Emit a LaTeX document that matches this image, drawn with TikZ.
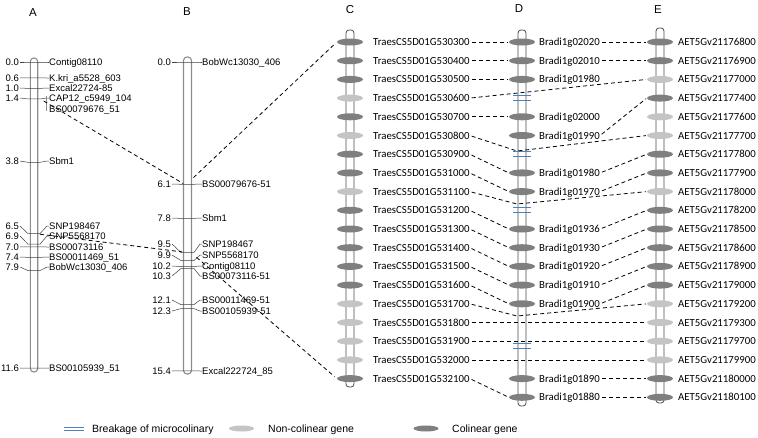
\documentclass[tikz,border=0pt]{standalone}
\usepackage{fontspec}
\setmainfont{Liberation Sans}
\newfontfamily\calibri{Carlito}
\usepackage{tikz}
\usetikzlibrary{shapes.geometric}
\definecolor{colgray}{HTML}{7F7F7F}
\definecolor{noncolgray}{HTML}{C4C4C4}
\definecolor{rodgray}{HTML}{8C8C8C}
\definecolor{breakblue}{HTML}{4F81BD}

\begin{document}
\begin{tikzpicture}[
    x=1pt, y=-1pt,
    rod/.style={draw=rodgray, line width=1.1pt, fill=white, rounded corners=3.5pt},
    generod/.style={draw=black!70, line width=0.8pt, fill=white, rounded corners=3pt},
    gene/.style={ellipse, minimum width=26pt, minimum height=7pt, inner sep=0pt},
    header/.style={font=\fontsize{11.5}{13}\selectfont},
    maplabel/.style={anchor=west, inner sep=0pt, font=\fontsize{9.5}{11}\selectfont,
                     text height=6.8pt, text depth=0pt},
    mapnum/.style={anchor=east, inner xsep=1pt, inner ysep=0pt, font=\fontsize{9.5}{11}\selectfont,
                   text height=6.8pt, text depth=0pt},
    mapline/.style={black!75, line width=0.5pt},
    genelabel/.style={anchor=west, inner sep=0pt, font=\calibri\fontsize{10.8}{12}\selectfont,
                      text height=7pt, text depth=0pt},
    link/.style={black, line width=0.8pt, dash pattern=on 4pt off 3pt,
                 shorten <=2pt, shorten >=1pt},
    brk/.style={breakblue, line width=0.8pt},
    legendtext/.style={anchor=west, inner sep=0pt, font=\fontsize{10.5}{12}\selectfont,
                       text height=7.5pt, text depth=0pt},
]
\useasboundingbox (0,0) rectangle (758,437);
% Panel letters
\node[header] (ha) at (33,13) {A};
\node[header] (hb) at (187,12) {B};
\node[header] (hc) at (350,10) {C};
\node[header] (hd) at (519,9) {D};
\node[header] (he) at (658,10) {E};

% Linkage map A
\draw[rod] (30.3,58) rectangle (37.7,372);
\foreach \cm/\ly/\w [count=\k] in {0.0/62/Contig08110, 0.6/78/K.kri\_a5528\_603,
    1.0/88/Excal22724-85, 1.4/98/CAP12\_c5949\_104, 3.8/161/Sbm1, 6.5/226/SNP198467,
    6.9/236/SNP5568170, 7.0/247/BS00073116, 7.4/257/BS00011469\_51,
    7.9/267/BobWc13030\_406, 11.6/368/BS00105939\_51} {
    \pgfmathsetmacro\my{62+26.4*\cm}
    \node[mapnum] (na\k) at (20,\ly) {\cm};
    \node[maplabel] (la\k) at (49,\ly) {\w};
    \draw[mapline] (na\k.east) -- (28,\my) -- (40,\my) -- (47,\ly) -- (la\k.west);
}
\node[maplabel] (la12) at (49,109) {BS00079676\_51};
\draw[mapline, rodgray] (46,96) -- (46,111);

% Linkage map B
\draw[rod] (183.5,57) rectangle (191.5,374);
\foreach \cm/\ly/\w [count=\k] in {0.0/62/BobWc13030\_406, 6.1/184/BS00079676-51,
    7.8/218/Sbm1, 9.5/244/SNP198467, 9.9/255/SNP5568170, 10.2/266/Contig08110,
    10.3/276/BS00073116-51, 12.1/300/BS00011469-51, 12.3/311/BS00105939-51,
    15.4/371/Excal222724\_85} {
    \pgfmathsetmacro\my{62+20.05*\cm}
    \node[mapnum] (nb\k) at (172,\ly) {\cm};
    \node[maplabel] (lb\k) at (202,\ly) {\w};
    \draw[mapline] (nb\k.east) -- (181,\my) -- (194,\my) -- (200,\ly) -- (lb\k.west);
}

% Gene rods C, D, E
\draw[generod] (346,30) rectangle (354,387);
\draw[generod] (518,30) rectangle (526,406);
\draw[generod] (656,28) rectangle (664,403);

% Genes C
\foreach \i/\g/\col in {0/530300/colgray, 1/530400/colgray, 2/530500/colgray,
    3/530600/noncolgray, 4/530700/colgray, 5/530800/noncolgray, 6/530900/colgray,
    7/531000/colgray, 8/531100/noncolgray, 9/531200/colgray, 10/531300/colgray,
    11/531400/colgray, 12/531500/colgray, 13/531600/colgray, 14/531700/noncolgray,
    15/531800/noncolgray, 16/531900/noncolgray, 17/532000/noncolgray, 18/532100/colgray} {
    \node[gene, fill=\col] (c\i) at (350,{42+18.7*\i}) {};
    \node[genelabel] (lc\i) at (373,{42+18.7*\i}) {TraesCS5D01G\g};
}

% Genes D
\foreach \i/\g in {0/02020, 1/02010, 2/01980, 4/02000, 5/01990, 7/01980, 8/01970,
    10/01936, 11/01930, 12/01920, 13/01910, 14/01900, 18/01890, 19/01880} {
    \node[gene, fill=colgray] (d\i) at (522,{42+18.7*\i}) {};
    \node[genelabel] (ld\i) at (539,{42+18.7*\i}) {Bradi1g\g};
}
\foreach \y in {98.1, 154.2, 210.3, 346} {
    \draw[brk] (513,{\y-2.5}) -- (531,{\y-2.5});
    \draw[brk] (513,{\y+2.5}) -- (531,{\y+2.5});
}

% Genes E
\foreach \i/\g/\col in {0/176800/colgray, 1/176900/colgray, 2/177000/noncolgray,
    3/177400/colgray, 4/177600/noncolgray, 5/177700/noncolgray, 6/177800/colgray,
    7/177900/colgray, 8/178000/noncolgray, 9/178200/colgray, 10/178500/colgray,
    11/178600/colgray, 12/178900/colgray, 13/179000/colgray, 14/179200/noncolgray,
    15/179300/noncolgray, 16/179700/noncolgray, 17/179900/noncolgray,
    18/180000/colgray, 19/180100/colgray} {
    \node[gene, fill=\col] (e\i) at (660,{42+18.7*\i}) {};
    \node[genelabel] (le\i) at (678,{42+18.7*\i}) {AET5Gv21\g};
}

% Links between maps
\coordinate (a-bs) at (42,100);
\coordinate (b-bs) at (184,184);
\coordinate (a-snp) at (38,234);
\coordinate (b-snp) at (183,252);
\coordinate (b-top) at (192,179);
\coordinate (b-bot) at (195,256);
\draw[link] (a-bs) -- (b-bs);
\draw[link] (a-snp) -- (b-snp);
\draw[link, shorten >=3pt] (b-top) -- (c0.west);
\draw[link, shorten >=3pt] (b-bot) -- (c18.west);

% Colinear links
\foreach \a/\b in {0/0, 1/1, 2/2, 4/4, 6/7, 7/8, 9/10, 10/11, 11/12, 12/13, 13/14, 18/19}
    \draw[link] (lc\a.east) -- (d\b.west);
\foreach \a/\b in {0/0, 1/1, 5/3, 7/6, 8/7, 10/9, 11/10, 12/11, 13/12, 14/13, 18/18, 19/19}
    \draw[link] (ld\a.east) -- (e\b.west);

% Links past D
\coordinate (dv5) at (517,151);
\coordinate (dv8) at (517,204);
\coordinate (dv14) at (517,316);
\draw[link] (lc3.east) -- (e2.west);
\foreach \i in {5, 8, 14}
    \draw[link] (lc\i.east) -- (dv\i) -- (e\i.west);
\foreach \i in {15, 16, 17}
    \draw[link] (lc\i.east) -- (e\i.west);

% Legend
\draw[brk] (64,427) -- (84,427);
\draw[brk] (64,430) -- (84,430);
\node[legendtext] (lg1) at (92,428.5) {Breakage of microcolinary};
\node[gene, fill=noncolgray, minimum width=25pt, minimum height=6pt] (lg2) at (241.5,428.5) {};
\node[legendtext] (lg3) at (268,428.5) {Non-colinear gene};
\node[gene, fill=colgray, minimum width=25pt, minimum height=6pt] (lg4) at (426,428.5) {};
\node[legendtext] (lg5) at (452,428.5) {Colinear gene};
\end{tikzpicture}
\end{document}
